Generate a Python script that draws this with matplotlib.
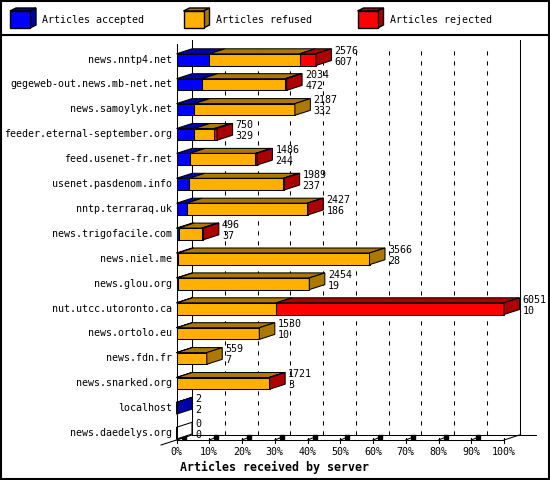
import numpy as np
import matplotlib
matplotlib.use("Agg")
import matplotlib.pyplot as plt
from matplotlib.patches import Rectangle, Polygon

plt.rcParams['lines.scale_dashes'] = False

servers = ["news.nntp4.net", "gegeweb-out.news.mb-net.net", "news.samoylyk.net",
           "feeder.eternal-september.org", "feed.usenet-fr.net", "usenet.pasdenom.info",
           "nntp.terraraq.uk", "news.trigofacile.com", "news.niel.me", "news.glou.org",
           "nut.utcc.utoronto.ca", "news.ortolo.eu", "news.fdn.fr", "news.snarked.org",
           "localhost", "news.daedelys.org"]
totals = [2576, 2034, 2187, 750, 1486, 1989, 2427, 496, 3566, 2454, 6051, 1530, 559, 1721, 2, 0]
accepted = [607, 472, 332, 329, 244, 237, 186, 37, 28, 19, 10, 10, 7, 3, 2, 0]
refused = [1670, 1534, 1855, 373, 1215, 1732, 2226, 429, 3538, 2435, 1837, 1520, 552, 1708, 0, 0]
rejected = [299, 28, 0, 48, 27, 20, 15, 30, 0, 0, 4204, 0, 0, 10, 0, 0]
series = ["Articles accepted", "Articles refused", "Articles rejected"]
ticks = [0, 10, 20, 30, 40, 50, 60, 70, 80, 90, 100]
xlabel = "Articles received by server"

colors = ["#0000ff", "#ffb000", "#ff0000"]
darks = ["#0000ad", "#ad7800", "#ad0000"]

W, H = 550, 480
PX = 3.275      # pixels per percent
PY = 24.9       # pixels per row
DX = 15.5 / PX  # depth in data units
DY = 5.0 / PY
MONO = "DejaVu Sans Mono"
FS = 7.2
LW = 0.75

fig = plt.figure(figsize=(W / 100, H / 100), dpi=100)

# overlay for frame, legend, title (pixel coordinates)
ov = fig.add_axes([0, 0, 1, 1])
ov.set_xlim(0, W)
ov.set_ylim(H, 0)
ov.axis("off")
ov.add_patch(Rectangle((1, 1), W - 2.5, H - 2.5, fill=False, ec="black", lw=1.5))
ov.plot([1, W - 1], [35, 35], color="black", lw=1.5)


def cube(axx, x, y, w, h, dx, dy, c, d, lw=0.75, z=3):
    # front face at (x, y) bottom-left, depth (dx, dy) in axx coords
    axx.add_patch(Polygon([(x, y + h), (x + w, y + h), (x + w + dx, y + h + dy), (x + dx, y + h + dy)],
                          closed=True, fc=d, ec="black", lw=lw, zorder=z, clip_on=False))
    axx.add_patch(Polygon([(x + w, y), (x + w + dx, y + dy), (x + w + dx, y + h + dy), (x + w, y + h)],
                          closed=True, fc=d, ec="black", lw=lw, zorder=z, clip_on=False))
    axx.add_patch(Rectangle((x, y), w, h, fc=c, ec="black", lw=lw, zorder=z + 0.1, clip_on=False))


leg_x = [10, 183.5, 357.5]
for i, name in enumerate(series):
    cube(ov, leg_x[i], 28, 20, -17, 6, -3, colors[i], darks[i], lw=1)
    ov.text(leg_x[i] + 32.5, 20, name, family=MONO, fontsize=FS, va="center", ha="left")

ov.text(180, 467, xlabel, family=MONO, fontsize=8.4, fontweight="bold", va="center", ha="left")

# main axes
ax = fig.add_axes([176.5 / W, (H - 440) / H, 100 * PX / W, 16 * PY / H])
ax.set_xlim(0, 100)
ax.set_ylim(0, 16)
ax.axis("off")
ax.patch.set_alpha(0)

top_y = (440 - 40) / PY
# back plane grid
for t in ticks[1:-1]:
    ax.plot([t + DX, t + DX], [DY, (440 - 50) / PY], color="black", lw=LW,
            linestyle=(0, (3, 4.2)), zorder=1, clip_on=False)
ax.plot([DX, DX], [DY, top_y], color="black", lw=LW, zorder=1, clip_on=False)
ax.plot([100 + DX, 100 + DX], [DY, top_y], color="black", lw=LW, zorder=1, clip_on=False)
ax.plot([DX, 100 + DX + 16 / PX], [DY, DY], color="black", lw=LW, zorder=1, clip_on=False)
# floor edges and front axes
ax.plot([-DX, DX], [-DY, DY], color="black", lw=LW, zorder=1, clip_on=False)
ax.plot([100, 100 + DX], [0, DY], color="black", lw=LW, zorder=1, clip_on=False)
ax.plot([0, 100], [0, 0], color="black", lw=LW, zorder=1, clip_on=False)
ax.plot([0, 0], [0, (440 - 44) / PY], color="black", lw=LW, zorder=5, clip_on=False)
for t in ticks:
    ax.plot([t, t], [-3 / PY, 2.5 / PY], color="black", lw=LW, zorder=1, clip_on=False)
    if t < 100:
        ax.plot([t, t + 9 / PX], [0, 3.5 / PY], color="black", lw=LW, zorder=1, clip_on=False)
        ax.plot([t + 7 / PX], [3 / PY], marker="s", ms=2.2, color="black", zorder=1, clip_on=False)
    ax.text(t, -12 / PY, f"{t}%", family=MONO, fontsize=FS, ha="center", va="center")

vmax = max(totals)
n = len(servers)
for k, name in enumerate(servers):
    row = n - 1 - k
    y0 = row + 0.04
    h = 0.47
    segs = [accepted[k], refused[k], rejected[k]]
    left = 0.0
    last = None
    for j, v in enumerate(segs):
        if v <= 0:
            continue
        w = v / vmax * 100
        ax.add_patch(Polygon([(left, y0 + h), (left + w, y0 + h), (left + w + DX, y0 + h + DY),
                              (left + DX, y0 + h + DY)], closed=True, fc=darks[j], ec="black",
                             lw=LW, zorder=3, clip_on=False))
        ax.add_patch(Rectangle((left, y0), w, h, fc=colors[j], ec="black", lw=LW,
                               zorder=3.1, clip_on=False))
        left += w
        last = j
    side = darks[last] if last is not None else "white"
    ax.add_patch(Polygon([(left, y0), (left + DX, y0 + DY), (left + DX, y0 + h + DY), (left, y0 + h)],
                         closed=True, fc=side, ec="black", lw=LW, zorder=3.2, clip_on=False))
    tx = left + DX + 3 / PX
    ax.text(tx, row + 0.64, str(totals[k]), family=MONO, fontsize=FS, ha="left", va="center")
    ax.text(tx, row + 0.2, str(accepted[k]), family=MONO, fontsize=FS, ha="left", va="center")
    ax.text(-4.5 / PX, row + 0.28, name, family=MONO, fontsize=FS, ha="right", va="center")

fig.savefig("out.png", dpi=100)
